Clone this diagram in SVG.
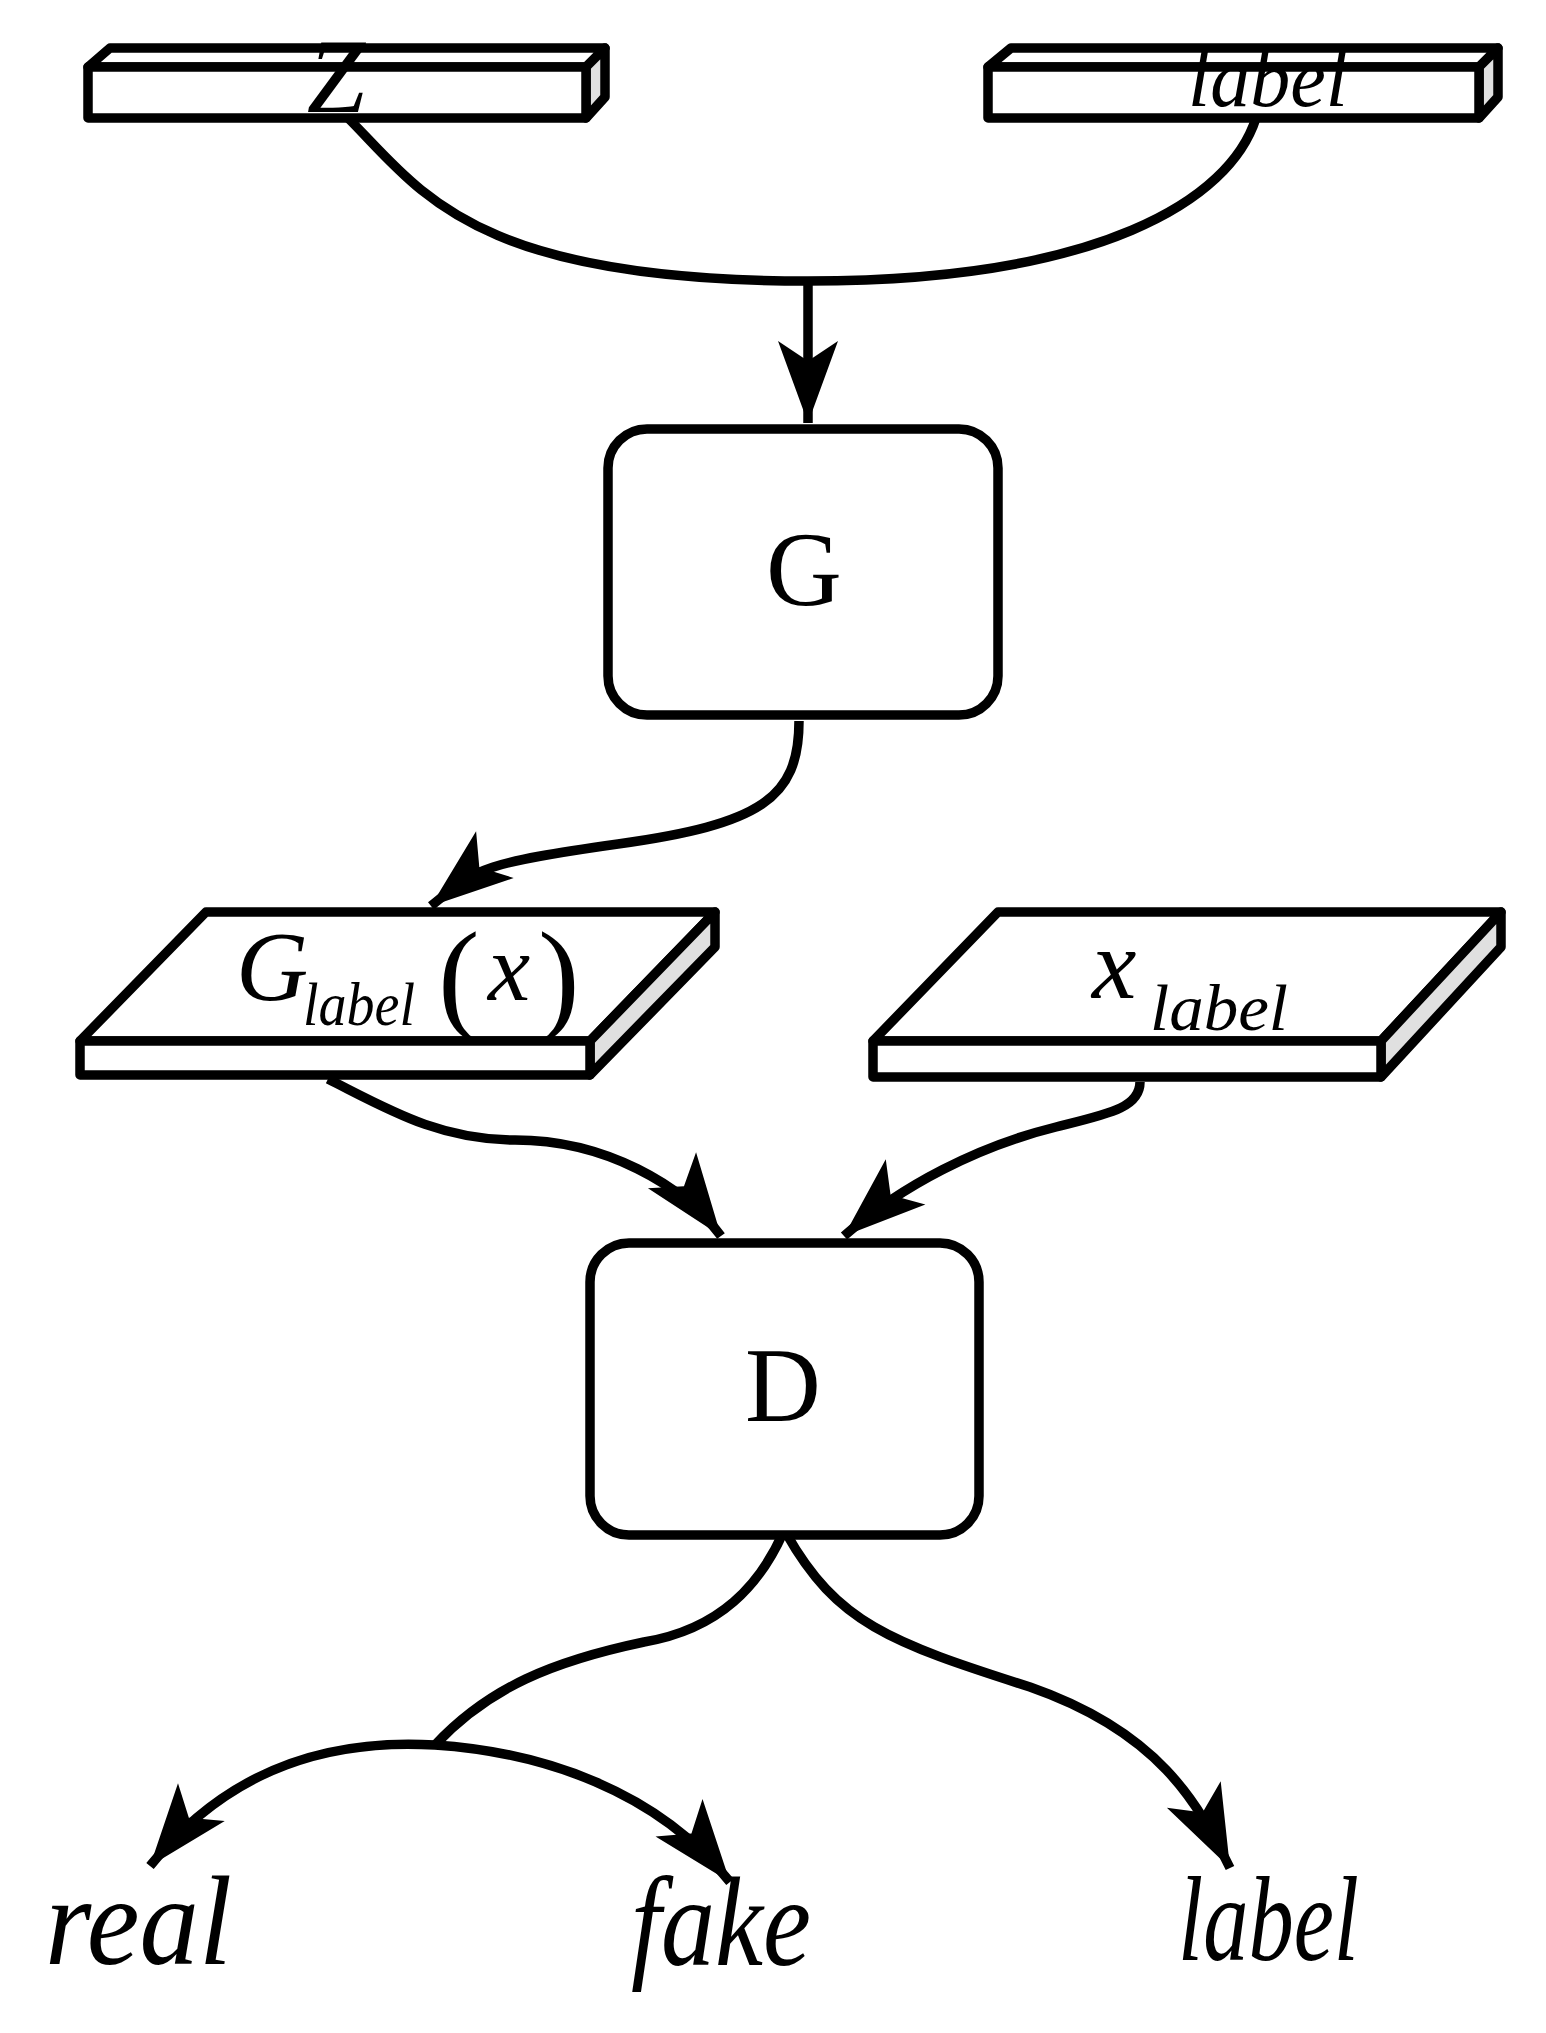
<svg xmlns="http://www.w3.org/2000/svg" width="1546" height="2033" viewBox="0 0 1546 2033">
<style>
.s{fill:#fff;stroke:#000;stroke-width:9.5;stroke-linejoin:round}
.side{fill:#e0e0e0;stroke:#000;stroke-width:9.5;stroke-linejoin:round}
.c{fill:none;stroke:#000;stroke-width:9.5}
.t{font-family:"Liberation Serif",serif;fill:#000}
.i{font-style:italic}
</style>
<defs>
<marker id="a" markerUnits="userSpaceOnUse" markerWidth="110" markerHeight="80" viewBox="-100 -40 105 80" refX="0" refY="0" orient="auto-start-reverse">
<path d="M0,0 L-82,-30 L-62,0 L-82,30 Z" fill="#000"/>
</marker>
</defs>
<g id="connectors">
<path class="c" d="M348,118 C420,190 470,281 808,281 C1100,281 1230,200 1256,118"/>
<path class="c" d="M808,281 L808,423" marker-end="url(#a)"/>
<path class="c" d="M799,721 C799,799 760,824 618,844 S477,869 431,906" marker-end="url(#a)"/>
<path class="c" d="M328,1079 C386,1108 438,1140 515,1140 C605,1140 683,1185 721,1236" marker-end="url(#a)"/>
<path class="c" d="M1140,1082 C1140,1108 1108,1114 1056,1127 C979,1146 902,1185 844,1236" marker-end="url(#a)"/>
<path class="c" d="M783,1533 C760,1584 721,1629 644,1642 C554,1661 489,1687 435,1745"/>
<path class="c" d="M150,1866 C232,1764 335,1739 435,1745 C541,1752 657,1790 730,1882" marker-start="url(#a)" marker-end="url(#a)"/>
<path class="c" d="M786,1533 C837,1623 889,1642 1030,1687 C1159,1732 1198,1803 1230,1868" marker-end="url(#a)"/>
</g>
<g id="z">
<path class="s" d="M88,67 L110,48 L605,48 L586,67 Z"/>
<path class="side" d="M586,67 L605,48 L605,97 L586,118 Z"/>
<rect class="s" x="88" y="67" width="498" height="51"/>
<text class="t i" x="336" y="112" font-size="105" text-anchor="middle">Z</text>
</g>
<g id="label-in">
<path class="s" d="M988,67 L1011,48 L1498,48 L1479,67 Z"/>
<path class="side" d="M1479,67 L1498,48 L1498,97 L1479,118 Z"/>
<rect class="s" x="988" y="67" width="491" height="51"/>
<text class="t i" x="1188" y="106" font-size="82" textLength="160" lengthAdjust="spacingAndGlyphs">label</text>
</g>
<g id="G">
<rect class="s" x="608" y="429" width="390" height="286" rx="39"/>
<text class="t" x="804" y="605" font-size="105" text-anchor="middle">G</text>
</g>
<g id="glabel">
<path class="s" d="M206,912 L715,912 L590,1041 L80,1041 Z"/>
<path class="side" d="M590,1041 L715,912 L715,947 L590,1075 Z"/>
<rect class="s" x="80" y="1041" width="510" height="34"/>
<text class="t i" x="236" y="1000" font-size="100">G</text>
<text class="t i" x="303" y="1025" font-size="62" textLength="112" lengthAdjust="spacingAndGlyphs">label</text>
<text class="t" x="438" y="1018" font-size="125">(</text>
<text class="t i" x="488" y="1000" font-size="95">x</text>
<text class="t" x="538" y="1018" font-size="125">)</text>
</g>
<g id="xlabel">
<path class="s" d="M998,912 L1501,912 L1381,1041 L873,1041 Z"/>
<path class="side" d="M1381,1041 L1501,912 L1501,947 L1381,1077 Z"/>
<rect class="s" x="873" y="1041" width="508" height="36"/>
<text class="t i" x="1092" y="998" font-size="100">x</text>
<text class="t i" x="1150" y="1030" font-size="66" textLength="138" lengthAdjust="spacingAndGlyphs">label</text>
</g>
<g id="D">
<rect class="s" x="590" y="1243" width="389" height="292" rx="39"/>
<text class="t" x="783" y="1421" font-size="105" text-anchor="middle">D</text>
</g>
<g id="outputs">
<text class="t i" x="45" y="1964" font-size="128" textLength="187" lengthAdjust="spacingAndGlyphs">real</text>
<text class="t i" x="631" y="1965" font-size="128" textLength="180" lengthAdjust="spacingAndGlyphs">fake</text>
<text class="t i" x="1178" y="1960" font-size="120" textLength="181" lengthAdjust="spacingAndGlyphs">label</text>
</g>
</svg>
